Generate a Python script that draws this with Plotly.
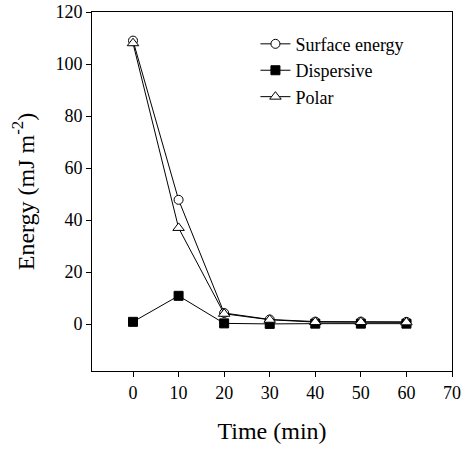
import plotly.graph_objects as go

time_min = [0, 10, 20, 30, 40, 50, 60]
surface_energy = [109.0, 47.8, 4.3, 1.8, 1.0, 1.0, 0.9]
dispersive = [0.9, 10.9, 0.3, 0.1, 0.2, 0.2, 0.2]
polar = [108.0, 37.0, 4.0, 1.7, 0.8, 0.8, 0.7]
x_ticks = [0, 10, 20, 30, 40, 50, 60, 70]
y_ticks = [0, 20, 40, 60, 80, 100, 120]

font_family = "Liberation Serif"

fig = go.Figure()
fig.add_trace(go.Scatter(
    x=time_min, y=surface_energy, name="Surface energy", mode="lines+markers",
    line=dict(color="black", width=1),
    marker=dict(symbol="circle", size=9, color="white", line=dict(color="black", width=1)),
))
fig.add_trace(go.Scatter(
    x=time_min, y=dispersive, name="Dispersive", mode="lines+markers",
    line=dict(color="black", width=1),
    marker=dict(symbol="square", size=9, color="black", line=dict(color="black", width=1)),
))
fig.add_trace(go.Scatter(
    x=time_min, y=polar, name="Polar", mode="lines+markers",
    line=dict(color="black", width=1),
    marker=dict(symbol="triangle-up", size=10, color="white", line=dict(color="black", width=1)),
))

axis_common = dict(
    showgrid=False, zeroline=False, showline=True, linecolor="black", linewidth=1,
    mirror=True, ticks="outside", ticklen=5, tickwidth=1, tickcolor="black",
    tickfont=dict(family=font_family, size=18, color="black"),
    automargin=False, ticklabeloverflow="allow",
)

fig.update_layout(
    width=462, height=449,
    margin=dict(l=92, r=10, t=12, b=78),
    paper_bgcolor="white", plot_bgcolor="white",
    font=dict(family=font_family, color="black"),
    showlegend=True,
    legend=dict(
        x=0.454, y=0.962, xanchor="left", yanchor="top",
        bgcolor="rgba(0,0,0,0)", font=dict(family=font_family, size=18, color="black"),
        tracegroupgap=0,
    ),
    xaxis=dict(
        range=[-9, 70], tickvals=x_ticks,
        title=dict(text="Time (min)", font=dict(family=font_family, size=24, color="black"), standoff=20),
        **axis_common,
    ),
    yaxis=dict(
        range=[-18, 120], tickvals=y_ticks,
        title=dict(text="Energy (mJ m<sup>-2</sup>)", font=dict(family=font_family, size=24, color="black"), standoff=14),
        **axis_common,
    ),
)

fig.write_html(
    "out.html",
    config={"displayModeBar": False},
    post_script="document.body.style.margin='0';document.body.style.overflow='hidden';",
)
